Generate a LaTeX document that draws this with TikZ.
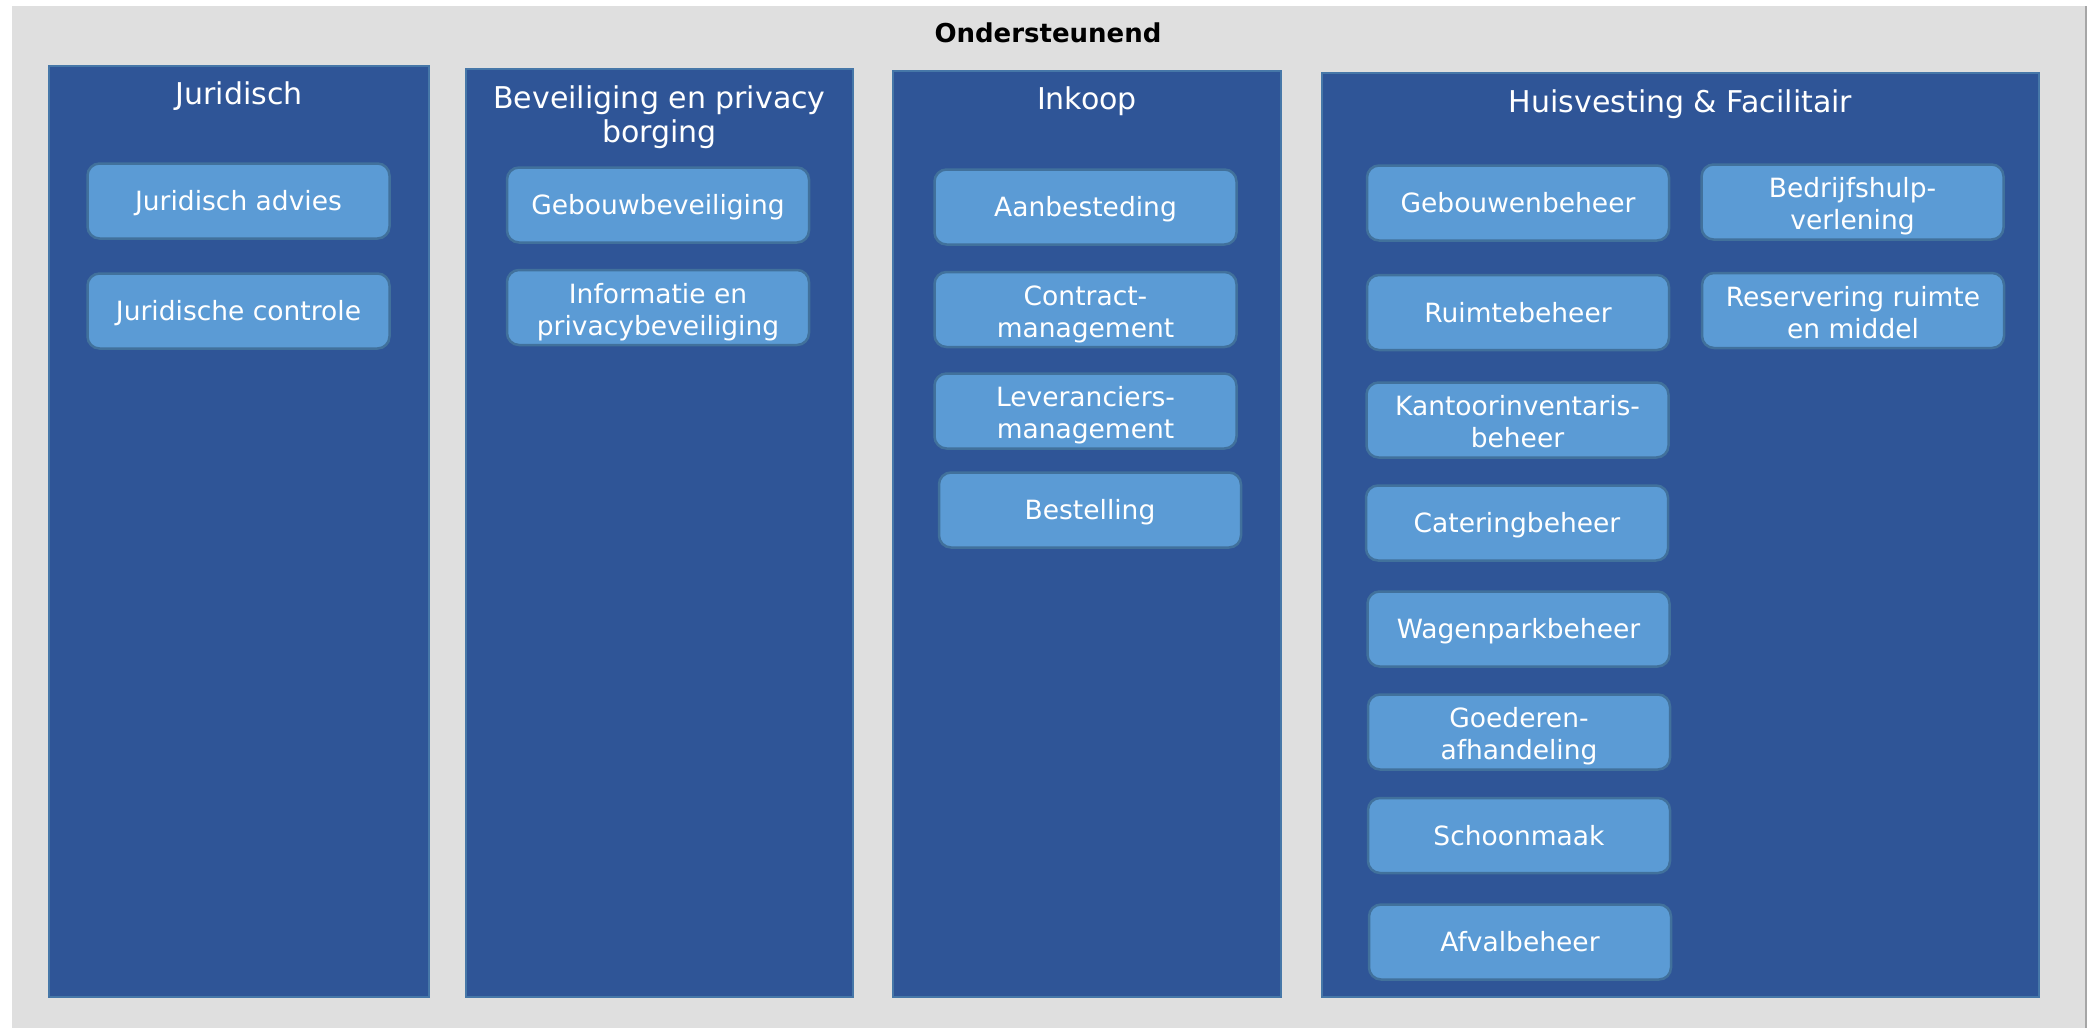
\documentclass[tikz,border=0pt]{standalone}
\usepackage{fontspec}
\setmainfont{DejaVu Sans}
\definecolor{bggray}{HTML}{DFDFDF}
\definecolor{edgegray}{HTML}{A6A6A6}
\definecolor{panelfill}{HTML}{2F5597}
\definecolor{paneledge}{HTML}{4677A8}
\definecolor{boxfill}{HTML}{5B9BD5}
\definecolor{boxedge}{HTML}{41719C}
\tikzset{
  panel/.style={draw=paneledge, fill=panelfill, line width=2.5pt, rectangle, inner sep=0pt},
  ptitle/.style={text=white, font=\fontsize{30}{34}\selectfont, anchor=base, inner sep=0pt},
  ptitletwo/.style={text=white, font=\fontsize{30}{34}\selectfont, align=center, inner sep=0pt},
  item/.style={draw=boxedge, fill=boxfill, line width=2.5pt, rounded corners=12pt,
    minimum width=302pt, minimum height=75pt, inner sep=0pt, text=white,
    font=\fontsize{26.5}{32}\selectfont, align=center, text height=19pt, text depth=0pt},
  itemtwo/.style={item, text height=55pt},
  maintitle/.style={font=\fontsize{26}{32}\selectfont\bfseries, anchor=base, inner sep=0pt}
}
\begin{document}
\begin{tikzpicture}[x=1pt,y=-1pt]
\useasboundingbox (0,0) rectangle (2087,1028);
\fill[bggray] (12,6) rectangle (2085,1028);
\draw[edgegray, line width=1.5pt] (2085.75,6) -- (2085.75,1028);
\node[maintitle] (title) at (1048,42) {Ondersteunend};
% panels
\node[panel, minimum width=380pt, minimum height=931pt] (p1) at (239,531.5) {};
\node[panel, minimum width=387pt, minimum height=928pt] (p2) at (659.5,533) {};
\node[panel, minimum width=388pt, minimum height=926pt] (p3) at (1087,534) {};
\node[panel, minimum width=717pt, minimum height=924pt] (p4) at (1680.5,535) {};
% panel titles
\node[ptitle] (t1) at (239,104) {Juridisch};
\node[ptitletwo] (t2) at (659.5,117) {Beveiliging en privacy\\borging};
\node[ptitle] (t3) at (1087,109) {Inkoop};
\node[ptitle] (t4) at (1680.5,112) {Huisvesting \& Facilitair};
% Juridisch
\node[item] (j1) at (238.5,201) {Juridisch advies};
\node[item] (j2) at (238.5,311) {Juridische controle};
% Beveiliging
\node[item] (b1) at (658,205) {Gebouwbeveiliging};
\node[itemtwo] (b2) at (658,307.5) {Informatie en\\privacybeveiliging};
% Inkoop
\node[item] (i1) at (1085.5,207) {Aanbesteding};
\node[itemtwo] (i2) at (1085.5,309.5) {Contract-\\management};
\node[itemtwo] (i3) at (1085.5,411) {Leveranciers-\\management};
\node[item] (i4) at (1090,510) {Bestelling};
% Huisvesting
\node[item] (h1) at (1518,203) {Gebouwenbeheer};
\node[itemtwo] (h2) at (1852.5,202) {Bedrijfshulp-\\verlening};
\node[item] (h3) at (1518,312.5) {Ruimtebeheer};
\node[itemtwo] (h4) at (1853,310.5) {Reservering ruimte\\en middel};
\node[itemtwo] (h5) at (1517.5,420) {Kantoorinventaris-\\beheer};
\node[item] (h6) at (1517,523) {Cateringbeheer};
\node[item] (h7) at (1518.5,629) {Wagenparkbeheer};
\node[itemtwo] (h8) at (1519,732) {Goederen-\\afhandeling};
\node[item] (h9) at (1519,835.5) {Schoonmaak};
\node[item] (h10) at (1520,942) {Afvalbeheer};
\end{tikzpicture}
\end{document}
